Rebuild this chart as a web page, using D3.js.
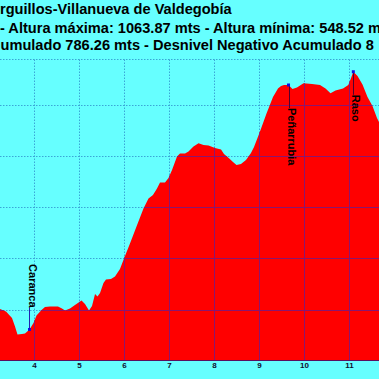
<!DOCTYPE html>
<html><head><meta charset="utf-8">
<script src="https://cdn.jsdelivr.net/npm/d3@7"></script>
<style>html,body{margin:0;padding:0;background:#66ffff;overflow:hidden}svg{display:block}</style>
</head><body><svg id="c" width="379" height="379"></svg>
<script>
// ---- data ----
const kmValues = [3.133,3.244,3.378,3.511,3.578,3.633,3.733,3.8,3.9,3.989,4.056,4.167,4.244,4.356,4.533,4.622,4.689,4.8,4.911,5.056,5.133,5.222,5.289,5.356,5.411,5.467,5.544,5.6,5.711,5.8,5.911,6.0,6.133,6.278,6.433,6.544,6.644,6.733,6.8,6.911,6.989,7.067,7.178,7.244,7.356,7.433,7.544,7.656,7.767,7.878,8.022,8.156,8.222,8.333,8.422,8.5,8.6,8.711,8.822,8.889,9.022,9.167,9.311,9.422,9.489,9.556,9.656,9.744,9.844,9.989,10.178,10.356,10.478,10.589,10.7,10.867,10.984,11.044,11.096,11.189,11.3,11.411,11.522,11.622,11.667,11.8];
const elevations = [607.2,601.4,596.5,583.8,567.3,551.7,552.6,553.6,561.4,574.1,588.7,599.4,605.3,606.2,606.2,602.3,598.4,602.3,609.2,617.9,611.1,598.4,607.2,630.6,625.7,632.6,652.0,658.9,659.8,664.7,679.3,699.8,729.0,762.2,797.3,816.8,823.6,836.3,848.0,848.0,856.7,872.3,898.6,904.5,904.5,908.4,918.1,924.4,921.0,920.1,915.2,912.3,903.5,895.1,887.9,882.1,884.0,891.8,905.5,917.2,947.4,982.5,1014.6,1031.2,1036.1,1038.0,1038.0,1030.2,1033.1,1041.3,1040.0,1038.0,1031.2,1021.8,1027.3,1031.2,1038.0,1051.1,1063.87,1055.6,1039.0,1014.6,997.1,973.7,965.9,940.5];
const xTicks = [4,5,6,7,8,9,10,11];
const yGrid = [600,700,800,900,1000];
const waypointNames = ["Caranca","Peñarrubia","Raso"];
const waypointKm = [3.9,9.656,11.096];
const waypointElev = [561.4,1038.0,1063.87];
const titleLines = [
  "rguillos-Villanueva de Valdegobía",
  "- Altura máxima: 1063.87 mts - Altura mínima: 548.52 m",
  "umulado 786.26 mts - Desnivel Negativo Acumulado 8"
];

// ---- layout ----
const W = 379, H = 379;
const plotTop = 59.5, plotBottom = 361, yBase = 500;
const FONT = "'Liberation Sans', Arial, Helvetica, sans-serif";
const x = d3.scaleLinear().domain([4, 11]).range([34, 349]);
const y = d3.scaleLinear().domain([500, 1000]).range([plotBottom, 104.5]);

const svg = d3.select("#c");
svg.append("rect").attr("width", W).attr("height", H).attr("fill", "#66ffff");

const pts = kmValues.map((k, i) => [k, elevations[i]]);
const area = d3.area().x(d => x(d[0])).y0(y(yBase)).y1(d => y(d[1]));

const defs = svg.append("defs");
defs.append("clipPath").attr("id", "plotClip").append("rect")
  .attr("x", 0).attr("y", plotTop).attr("width", W).attr("height", plotBottom - plotTop);
defs.append("clipPath").attr("id", "areaClip").append("path").attr("d", area(pts));

// dotted grid on background
const gridDot = svg.append("g").attr("stroke", "#3aa6d6").attr("stroke-width", 1)
  .attr("stroke-dasharray", "1.5,1.5").attr("fill", "none");
xTicks.forEach(t => gridDot.append("line")
  .attr("x1", Math.round(x(t)) + 0.5).attr("x2", Math.round(x(t)) + 0.5)
  .attr("y1", plotTop).attr("y2", plotBottom));
yGrid.forEach(v => gridDot.append("line")
  .attr("x1", 0).attr("x2", W)
  .attr("y1", Math.round(y(v)) + 0.5).attr("y2", Math.round(y(v)) + 0.5));
gridDot.append("line").attr("x1", 0).attr("x2", W).attr("y1", plotTop).attr("y2", plotTop);

// profile
svg.append("path").attr("d", area(pts)).attr("fill", "#ff0000")
  .attr("clip-path", "url(#plotClip)");

// grid lines over the fill
const gridOver = svg.append("g").attr("clip-path", "url(#areaClip)")
  .attr("stroke", "#8a1670").attr("stroke-width", 1).attr("fill", "none");
xTicks.forEach(t => gridOver.append("line")
  .attr("x1", Math.round(x(t)) + 0.5).attr("x2", Math.round(x(t)) + 0.5)
  .attr("y1", plotTop).attr("y2", plotBottom));
yGrid.forEach(v => gridOver.append("line")
  .attr("x1", 0).attr("x2", W)
  .attr("y1", Math.round(y(v)) + 0.5).attr("y2", Math.round(y(v)) + 0.5));

// bottom frame line
svg.append("line").attr("x1", 0).attr("x2", W).attr("y1", plotBottom - 0.5).attr("y2", plotBottom - 0.5)
  .attr("stroke", "#5a1060").attr("stroke-width", 1);

// x axis labels
const axis = d3.axisBottom(x).tickValues(xTicks).tickSize(0).tickPadding(1.6).tickFormat(d3.format("d"));
const ax = svg.append("g").attr("transform", `translate(0,${plotBottom})`).call(axis);
ax.select(".domain").remove();
ax.selectAll("text").attr("font-family", FONT).attr("font-size", 8).attr("font-weight", "bold").attr("fill", "#101030");

// waypoints
waypointNames.forEach((name, i) => {
  const px = x(waypointKm[i]), py = y(waypointElev[i]);
  const labelLen = 58;
  const up = (py - 22 - labelLen) > plotTop;
  const off = up ? -22 : 23;
  svg.append("line").attr("x1", Math.round(px) + 0.5).attr("x2", Math.round(px) + 0.5)
    .attr("y1", py).attr("y2", py + off).attr("stroke", up ? "#2020b0" : "#500030").attr("stroke-width", 1);
  svg.append("rect").attr("x", px - 1.5).attr("y", py - 1.5).attr("width", 3).attr("height", 3).attr("fill", "#1010e0");
  svg.append("text").attr("transform", `translate(${px - 1},${py + off}) rotate(90)`)
    .attr("text-anchor", up ? "end" : "start")
    .attr("font-family", FONT).attr("font-size", 11).attr("font-weight", "bold").attr("fill", "#000").text(name);
});

// title
const titleX = [0, 0, 0.5], titleY = [13.5, 32.8, 50.3];
titleLines.forEach((t, i) => svg.append("text").attr("x", titleX[i]).attr("y", titleY[i])
  .attr("font-family", FONT).attr("font-size", 14.6).attr("font-weight", "bold").attr("fill", "#000").text(t));
</script></body></html>
